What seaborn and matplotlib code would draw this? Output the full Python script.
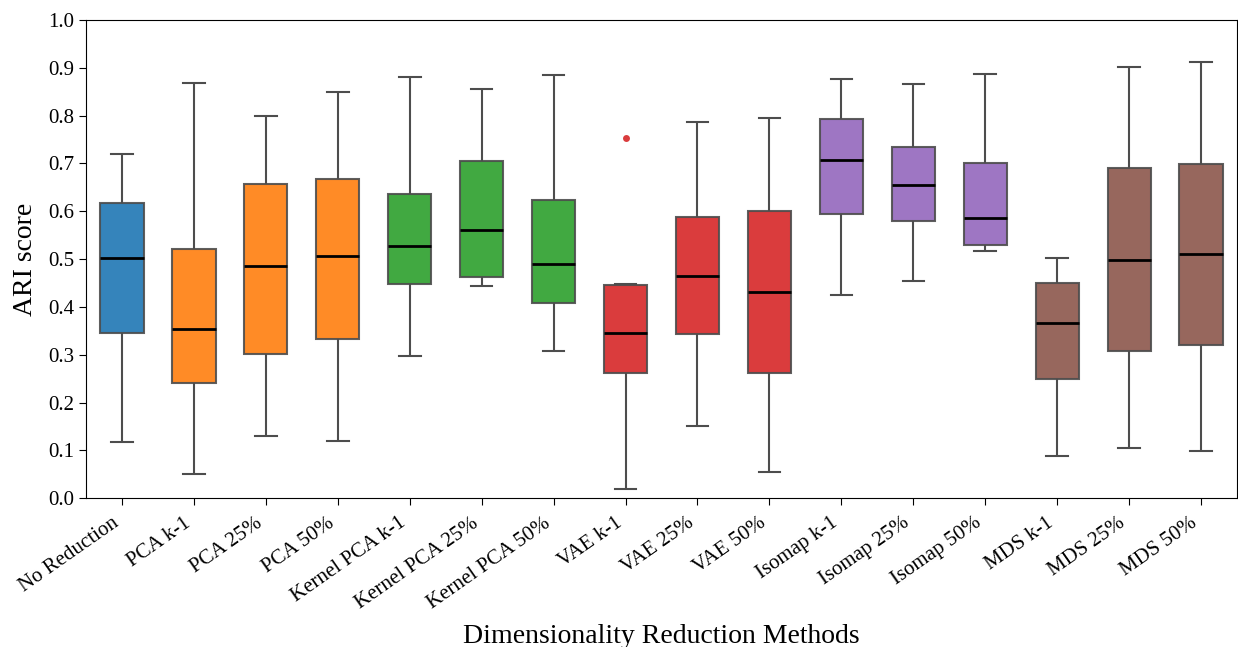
import numpy as np
import pandas as pd
import matplotlib
matplotlib.use("Agg")
import matplotlib.pyplot as plt
import seaborn as sns

# box summaries (ARI scores)
methods = ["No Reduction", "PCA k-1", "PCA 25%", "PCA 50%",
           "Kernel PCA k-1", "Kernel PCA 25%", "Kernel PCA 50%",
           "VAE k-1", "VAE 25%", "VAE 50%",
           "Isomap k-1", "Isomap 25%", "Isomap 50%",
           "MDS k-1", "MDS 25%", "MDS 50%"]
whisker_low = [0.117, 0.050, 0.130, 0.120, 0.297, 0.443, 0.309, 0.019,
               0.151, 0.054, 0.426, 0.454, 0.518, 0.089, 0.106, 0.099]
q1 = [0.346, 0.242, 0.302, 0.334, 0.449, 0.462, 0.409, 0.263,
      0.344, 0.261, 0.594, 0.579, 0.530, 0.249, 0.307, 0.321]
median = [0.502, 0.355, 0.485, 0.507, 0.528, 0.561, 0.490, 0.345,
          0.465, 0.431, 0.707, 0.656, 0.587, 0.367, 0.498, 0.510]
q3 = [0.617, 0.521, 0.658, 0.668, 0.636, 0.705, 0.624, 0.447,
      0.588, 0.600, 0.792, 0.734, 0.702, 0.450, 0.691, 0.698]
whisker_high = [0.720, 0.869, 0.800, 0.849, 0.881, 0.856, 0.884, 0.448,
                0.786, 0.795, 0.876, 0.866, 0.887, 0.502, 0.901, 0.913]
outliers = {"VAE k-1": [0.753]}

group_colors = {"No": "#1f77b4", "PCA": "#ff7f0e", "Kernel": "#2ca02c",
                "VAE": "#d62728", "Isomap": "#9467bd", "MDS": "#8c564b"}

# rebuild samples whose quartiles equal the read summaries
rows = []
for i, m in enumerate(methods):
    if m in outliers:
        pts = [whisker_low[i], q1[i], q1[i], median[i], median[i],
               q3[i], q3[i], whisker_high[i]] + outliers[m]
    else:
        pts = [whisker_low[i], q1[i], median[i], q3[i], whisker_high[i]]
    for p in pts:
        rows.append({"method": m, "ARI": p})
df = pd.DataFrame(rows)

palette = {m: group_colors[m.split()[0]] for m in methods}

plt.rcParams["font.family"] = ["Liberation Serif", "DejaVu Serif"]
fig = plt.figure(figsize=(12.38, 6.47), dpi=100)
ax = fig.add_axes([0.0695, 0.2298, 0.9297, 0.7393])

sns.boxplot(data=df, x="method", y="ARI", hue="method", order=methods,
            palette=palette, saturation=1, width=0.6, legend=False,
            linecolor="0.3", linewidth=1.5, ax=ax,
            boxprops=dict(alpha=0.9),
            medianprops=dict(color="black", linewidth=2),
            flierprops=dict(marker="o", markerfacecolor="#d62728",
                            markeredgecolor="none", markersize=5, alpha=0.9))

ax.set_ylim(0, 1.0)
ax.set_yticks(np.arange(0, 1.01, 0.1))
ax.set_yticklabels([f"{v:.1f}" for v in np.arange(0, 1.01, 0.1)], fontsize=15)
ax.set_xticks(range(len(methods)))
ax.set_xticklabels(methods, rotation=35, ha="right", fontsize=15)
ax.tick_params(length=5)
ax.tick_params(axis="x", pad=6)
ax.set_xlabel("Dimensionality Reduction Methods", fontsize=20, labelpad=8)
ax.set_ylabel("ARI score", fontsize=20, labelpad=7)
for s in ax.spines.values():
    s.set_color("black")

fig.savefig("out.png", dpi=100)
